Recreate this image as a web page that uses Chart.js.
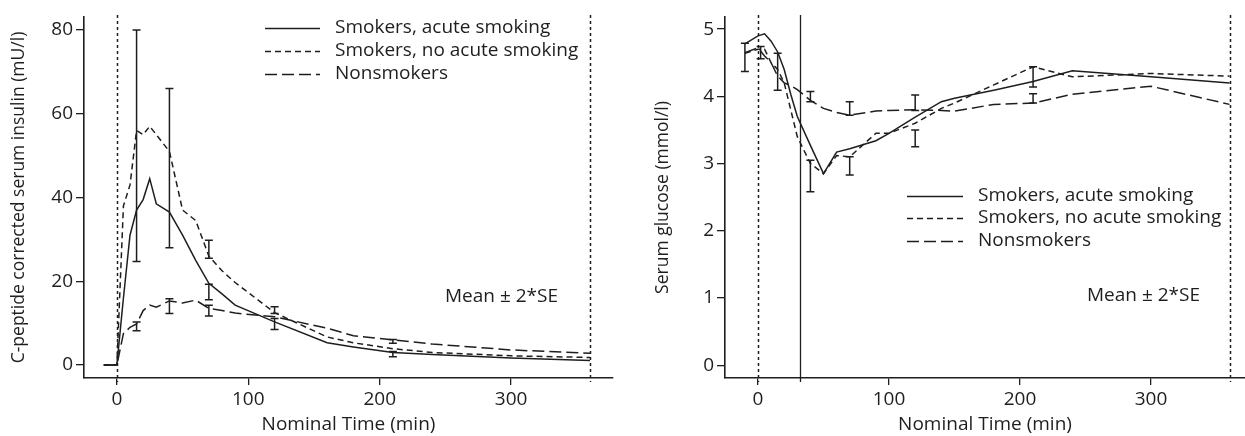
<!DOCTYPE html>
<html>
<head>
<meta charset="utf-8">
<script src="https://cdn.jsdelivr.net/npm/chart.js@4.4.0/dist/chart.umd.min.js"></script>
<style>
  body { margin: 0; background: #fff; }
  #wrap { position: relative; width: 1245px; height: 436px; }
  canvas { position: absolute; top: 0; }
  #insulinChart { left: 0; }
  #glucoseChart { left: 622px; }
</style>
</head>
<body>
<div id="wrap">
  <canvas id="insulinChart" width="622" height="436"></canvas>
  <canvas id="glucoseChart" width="623" height="436"></canvas>
</div>
<script>
// series + ticks
var seriesNames = ['Smokers, acute smoking', 'Smokers, no acute smoking', 'Nonsmokers']
var xTicks = [0, 100, 200, 300]
var insulinTicks = [0, 20, 40, 60, 80]
var glucoseTicks = [0, 1, 2, 3, 4, 5]

// C-peptide corrected serum insulin (mU/l)
var insulinTime    = [-10, 0, 5, 10, 15, 20, 25, 30, 40, 50, 60, 70, 80, 90, 120, 160, 180, 210, 240, 300, 360]
var insulinAcute   = [0, 0, 16, 31, 37, 39.5, 44.5, 38.5, 36.5, 31, 25, 19.5, 17, 14.3, 10.3, 5.3, 4.3, 3.0, 2.5, 1.7, 1.1]
var insulinNoAcute = [0, 0, 38, 43, 56, 55, 57, 55, 51, 37, 34.5, 26, 22.5, 19.7, 12.5, 6.7, 5.3, 3.9, 3.0, 2.2, 1.8]
var insulinNon     = [0, 0, 7.5, 9, 9.8, 13, 14.3, 13.8, 15.3, 14.8, 15.5, 13.5, 13, 12.4, 11.5, 8.8, 7, 6, 5, 3.6, 2.8]

// error bars (mean +/- 2*SE, only the outer side is printed)
var insulinErrT  = [15, 40, 70, 70, 70, 40, 15, 120, 120, 210, 210]
var insulinErrLo = [24.7, 28, 25.5, 15.6, 11.7, 12.3, 8.2, 12.3, 8.5, 5.2, 2.0]
var insulinErrHi = [80, 66, 29.8, 19.3, 14.3, 15.8, 10.3, 13.9, 11.1, 6.1, 3.2]

// serum glucose (mmol/l)
var glucoseTime    = [-10, 0, 5, 10, 15, 20, 25, 30, 40, 50, 60, 70, 90, 100, 120, 140, 150, 180, 210, 240, 300, 360]
var glucoseAcute   = [4.78, 4.9, 4.93, 4.82, 4.66, 4.4, 4.03, 3.7, 3.27, 2.85, 3.17, 3.22, 3.34, 3.45, 3.69, 3.92, 3.97, 4.09, 4.22, 4.38, 4.29, 4.2]
var glucoseNoAcute = [4.64, 4.7, 4.7, 4.5, 4.4, 4.2, 3.8, 3.4, 3.0, 2.85, 3.12, 3.1, 3.45, 3.45, 3.6, 3.82, 3.9, 4.17, 4.44, 4.29, 4.34, 4.3]
var glucoseNon     = [4.65, 4.72, 4.6, 4.5, 4.3, 4.2, 4.16, 4.1, 3.94, 3.82, 3.76, 3.72, 3.78, 3.79, 3.8, 3.79, 3.78, 3.88, 3.9, 4.03, 4.15, 3.88]

var glucoseErrT  = [-10, 2, 15, 40, 40, 70, 70, 120, 120, 210, 210]
var glucoseErrLo = [4.37, 4.56, 4.09, 2.58, 3.92, 3.72, 2.83, 3.79, 3.25, 4.14, 3.9]
var glucoseErrHi = [4.79, 4.74, 4.64, 3.05, 4.07, 3.92, 3.1, 4.02, 3.5, 4.44, 4.04]

// vertical markers: start/end of test, end of smoking
var studyBounds = [0, 360]
var smokingEnd = [32]

;(function (Chart) {
  var ink = '#1e1e1e'
  var font = '"Open Sans", "Noto Sans", sans-serif'
  var fontSize = 19
  var dashes = [[], [6, 4], [12, 5]]

  function points (xs, ys) {
    var out = []
    for (var i = 0; i < xs.length; i++) out.push({ x: xs[i], y: ys[i] })
    return out
  }

  function makeDatasets (time, lists) {
    return lists.map(function (vals, i) {
      return {
        label: seriesNames[i],
        data: points(time, vals),
        borderColor: ink,
        borderWidth: 1.5,
        borderDash: dashes[i],
        pointRadius: 0,
        tension: 0,
        fill: false
      }
    })
  }

  // markers, error bars, in-plot legend and the note
  var extras = {
    id: 'extras',
    afterDatasetsDraw: function (chart, args, opts) {
      var ctx = chart.ctx
      var xs = chart.scales.x
      var ys = chart.scales.y
      var area = chart.chartArea
      ctx.save()
      ctx.strokeStyle = ink
      opts.markers.forEach(function (m) {
        var px = Math.round(xs.getPixelForValue(m.value)) + 0.5
        ctx.beginPath()
        ctx.setLineDash(m.dash)
        ctx.lineWidth = m.width
        ctx.moveTo(px, area.top - 2)
        ctx.lineTo(px, area.bottom + 4)
        ctx.stroke()
      })

      ctx.setLineDash([])
      ctx.lineWidth = 1.5
      for (var i = 0; i < opts.errT.length; i++) {
        var ex = xs.getPixelForValue(opts.errT[i])
        var lo = ys.getPixelForValue(opts.errLo[i])
        var hi = ys.getPixelForValue(opts.errHi[i])
        ctx.beginPath()
        ctx.moveTo(ex, lo)
        ctx.lineTo(ex, hi)
        ctx.moveTo(ex - 4, lo)
        ctx.lineTo(ex + 4, lo)
        ctx.moveTo(ex - 4, hi)
        ctx.lineTo(ex + 4, hi)
        ctx.stroke()
      }

      var lg = opts.legend
      ctx.font = fontSize + 'px ' + font
      ctx.fillStyle = ink
      ctx.textBaseline = 'middle'
      chart.data.datasets.forEach(function (ds, k) {
        var y = lg.rows[k] + 0.5
        ctx.beginPath()
        ctx.setLineDash(ds.borderDash)
        ctx.lineWidth = 1.5
        ctx.moveTo(lg.x0, y)
        ctx.lineTo(lg.x1, y)
        ctx.stroke()
        ctx.fillText(ds.label, lg.textX, lg.rows[k])
      })
      ctx.setLineDash([])
      ctx.fillText('Mean \u00b1 2*SE', opts.note.x, opts.note.y)
      ctx.restore()
    }
  }

  function options (cfg) {
    return {
      responsive: false,
      animation: false,
      devicePixelRatio: 1,
      layout: { padding: cfg.padding },
      plugins: {
        legend: { display: false },
        tooltip: { enabled: false },
        extras: cfg.extras
      },
      scales: {
        x: {
          type: 'linear',
          min: cfg.xMin,
          max: cfg.xMax,
          afterBuildTicks: function (s) { s.ticks = xTicks.map(function (v) { return { value: v } }) },
          afterFit: function (s) { s.height = 58 },
          grid: { drawOnChartArea: false, drawTicks: true, tickLength: 7, color: ink, lineWidth: 1.3 },
          border: { display: true, color: ink, width: 1.6 },
          ticks: { color: ink, padding: 3, font: { family: font, size: fontSize } },
          title: { display: true, text: 'Nominal Time (min)', color: ink, padding: { bottom: 0 }, font: { family: font, size: fontSize } }
        },
        y: {
          type: 'linear',
          min: cfg.yMin,
          max: cfg.yMax,
          afterBuildTicks: function (s) { s.ticks = cfg.yTicks.map(function (v) { return { value: v } }) },
          afterFit: function (s) { s.width = cfg.yWidth },
          grid: { drawOnChartArea: false, drawTicks: true, tickLength: 8, color: ink, lineWidth: 1.3 },
          border: { display: true, color: ink, width: 1.6 },
          ticks: { color: ink, padding: 3, font: { family: font, size: fontSize } },
          title: { display: true, text: cfg.yTitle, color: ink, padding: { top: cfg.titlePad }, font: { family: font, size: 17.5 } }
        }
      }
    }
  }

  new Chart(document.getElementById('insulinChart'), {
    type: 'line',
    data: { datasets: makeDatasets(insulinTime, [insulinAcute, insulinNoAcute, insulinNon]) },
    plugins: [extras],
    options: options({
      padding: { left: 0, right: 9, top: 17, bottom: 0 },
      xMin: -25, xMax: 377.5,
      yMin: -3.1, yMax: 83.1,
      yTicks: insulinTicks,
      yWidth: 84,
      titlePad: 9,
      yTitle: 'C-peptide corrected serum insulin (mU/l)',
      extras: {
        markers: studyBounds.map(function (v) { return { value: v, dash: [3, 3], width: 1.5 } }),
        errT: insulinErrT, errLo: insulinErrLo, errHi: insulinErrHi,
        legend: { x0: 265, x1: 320, textX: 335, rows: [28, 51, 74] },
        note: { x: 445, y: 297 }
      }
    })
  })

  new Chart(document.getElementById('glucoseChart'), {
    type: 'line',
    data: { datasets: makeDatasets(glucoseTime, [glucoseAcute, glucoseNoAcute, glucoseNon]) },
    plugins: [extras],
    options: options({
      padding: { left: 0, right: 0, top: 17, bottom: 0 },
      xMin: -25.2, xMax: 371.8,
      yMin: -0.19, yMax: 5.18,
      yTicks: glucoseTicks,
      yWidth: 103,
      titlePad: 31,
      yTitle: 'Serum glucose (mmol/l)',
      extras: {
        markers: studyBounds.map(function (v) { return { value: v, dash: [3, 3], width: 1.5 } })
          .concat(smokingEnd.map(function (v) { return { value: v, dash: [], width: 1.3 } })),
        errT: glucoseErrT, errLo: glucoseErrLo, errHi: glucoseErrHi,
        legend: { x0: 285, x1: 341, textX: 356, rows: [196, 218, 241] },
        note: { x: 465, y: 296 }
      }
    })
  })
})(Chart);
</script>
</body>
</html>
